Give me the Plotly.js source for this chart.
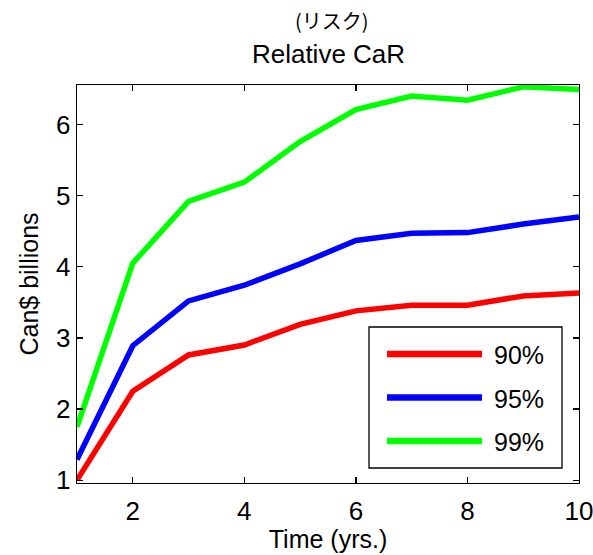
<!DOCTYPE html>
<html>
<head>
<meta charset="utf-8">
<script src="https://cdn.plot.ly/plotly-3.0.1.min.js"></script>
<style>html,body{margin:0;padding:0;background:#fff;}#chart{width:593px;height:555px;}</style>
</head>
<body>
<div id="chart"></div>
<script>
const years = [1, 2, 3, 4, 5, 6, 7, 8, 9, 10];
const car90 = [1.00, 2.25, 2.76, 2.90, 3.19, 3.38, 3.46, 3.46, 3.59, 3.63];
const car95 = [1.29, 2.89, 3.52, 3.74, 4.04, 4.37, 4.47, 4.48, 4.60, 4.70];
const car99 = [1.75, 4.05, 4.92, 5.19, 5.76, 6.21, 6.40, 6.34, 6.53, 6.49];
const seriesNames = ['90%', '95%', '99%'];
const seriesColors = ['#ff0000', '#0000ff', '#00ff00'];
const xTicks = [2, 4, 6, 8, 10];
const yTicks = [1, 2, 3, 4, 5, 6];

const FONT = 'Liberation Sans, Arial, sans-serif';
const seriesValues = [car90, car95, car99];

const traces = seriesValues.map((vals, i) => ({
  x: years, y: vals, type: 'scatter', mode: 'lines', name: seriesNames[i],
  line: {color: seriesColors[i], width: 5.5}, showlegend: false
}));

// Manual legend box (paper coords)
const L = 77, R = 579, T = 85, B = 483;
const px = v => (v - L) / (R - L);
const py = v => (B - v) / (B - T);
const shapes = [{
  type: 'rect', xref: 'paper', yref: 'paper',
  x0: px(369), x1: px(562), y0: py(468), y1: py(327),
  line: {color: '#000', width: 1.3}, fillcolor: '#fff'
}];
const rowY = [354, 397.5, 441];
const annotations = [{
  text: '(リスク)', xref: 'paper', yref: 'paper', x: px(332), y: py(21),
  xanchor: 'center', yanchor: 'middle', showarrow: false,
  font: {family: 'Noto Sans CJK JP', size: 20, color: '#000'}
}];
seriesNames.forEach((n, i) => {
  shapes.push({type: 'line', xref: 'paper', yref: 'paper',
    x0: px(387), x1: px(482), y0: py(rowY[i]), y1: py(rowY[i]),
    line: {color: seriesColors[i], width: 6.5}});
  annotations.push({text: n, xref: 'paper', yref: 'paper', x: px(492), y: py(rowY[i] + 1),
    xanchor: 'left', yanchor: 'middle', showarrow: false,
    font: {family: FONT, size: 25, color: '#000'}});
});

const layout = {
  width: 593, height: 555,
  margin: {l: L, r: 593 - R, t: T, b: 555 - B},
  paper_bgcolor: '#fff', plot_bgcolor: '#fff',
  showlegend: false,
  title: {text: 'Relative CaR', x: px(328.5), xref: 'paper', y: 1 - 54 / 555, yanchor: 'middle',
    font: {family: FONT, size: 26, color: '#000'}},
  xaxis: {
    range: [1, 10], tickvals: xTicks, ticktext: xTicks.map(String),
    ticks: 'inside', ticklen: 6, tickwidth: 1.3, tickcolor: '#000',
    showline: true, linecolor: '#000', linewidth: 1.3, mirror: 'ticks',
    showgrid: false, zeroline: false, ticklabelstandoff: 4, ticklabeloverflow: 'allow',
    tickfont: {family: FONT, size: 26, color: '#000'},
    title: {text: 'Time (yrs.)', font: {family: FONT, size: 25, color: '#000'}, standoff: 4}
  },
  yaxis: {
    range: [0.96, 6.555], tickvals: yTicks, ticktext: yTicks.map(String),
    ticks: 'inside', ticklen: 6, tickwidth: 1.3, tickcolor: '#000',
    showline: true, linecolor: '#000', linewidth: 1.3, mirror: 'ticks',
    showgrid: false, zeroline: false, ticklabeloverflow: 'allow',
    tickfont: {family: FONT, size: 26, color: '#000'},
    title: {text: 'Can$ billions', font: {family: FONT, size: 25, color: '#000'}, standoff: 10}
  },
  shapes: shapes,
  annotations: annotations
};

Plotly.newPlot('chart', traces, layout, {displayModeBar: false, staticPlot: true});
</script>
</body>
</html>
